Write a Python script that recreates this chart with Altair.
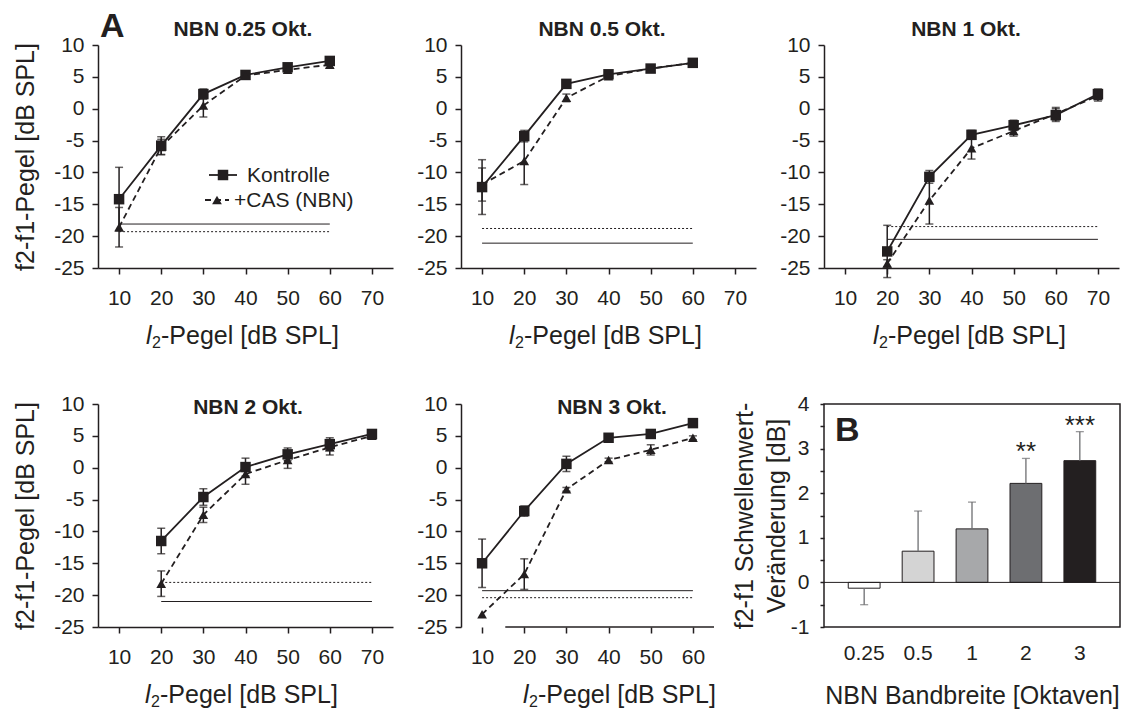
import altair as alt
import pandas as pd

FONT = "Liberation Sans"
INK = "#231f20"

# ---------------- data ----------------
panel_titles = ["NBN 0.25 Okt.", "NBN 0.5 Okt.", "NBN 1 Okt.", "NBN 2 Okt.", "NBN 3 Okt."]

lvl_p1 = [10, 20, 30, 40, 50, 60]
kon_p1 = [-14.2, -5.8, 2.3, 5.3, 6.5, 7.5]
kon_err_p1 = [5.0, 1.4, 0.8, 0.3, 0.5, 0.4]
cas_p1 = [-18.6, -6.0, 0.5, 5.2, 6.1, 6.9]
cas_err_p1 = [3.1, 1.2, 1.8, 0.3, 0.5, 0.5]
floor_kon_p1 = -18.1
floor_cas_p1 = -19.3

lvl_p2 = [10, 20, 30, 40, 50, 60]
kon_p2 = [-12.3, -4.3, 3.9, 5.4, 6.3, 7.2]
kon_err_p2 = [4.3, 0.9, 0.5, 0.4, 0.3, 0.3]
cas_p2 = [-11.9, -8.2, 1.7, 5.1, 6.3, 7.2]
cas_err_p2 = [2.6, 3.7, 0.6, 0.4, 0.3, 0.3]
floor_kon_p2 = -21.1
floor_cas_p2 = -18.8

lvl_p3 = [20, 30, 40, 50, 60, 70]
kon_p3 = [-22.4, -10.7, -4.1, -2.6, -1.0, 2.3]
kon_err_p3 = [4.1, 1.0, 0.7, 0.8, 1.0, 0.8]
cas_p3 = [-24.3, -14.4, -6.2, -3.5, -0.8, 2.0]
cas_err_p3 = [0.6, 3.7, 1.7, 0.8, 1.0, 0.8]
floor_kon_p3 = -20.5
floor_cas_p3 = -18.5

lvl_p4 = [20, 30, 40, 50, 60, 70]
kon_p4 = [-11.5, -4.6, 0.1, 2.1, 3.7, 5.3]
kon_err_p4 = [2.0, 1.3, 1.4, 1.0, 1.0, 0.5]
cas_p4 = [-18.2, -7.4, -1.0, 1.2, 3.2, 5.0]
cas_err_p4 = [2.0, 1.2, 1.6, 1.3, 1.2, 0.5]
floor_kon_p4 = -21.0
floor_cas_p4 = -18.0

lvl_p5 = [10, 20, 30, 40, 50, 60]
kon_p5 = [-15.0, -6.8, 0.6, 4.7, 5.3, 7.0]
kon_err_p5 = [3.8, 0.8, 1.2, 0.3, 0.3, 0.3]
cas_p5 = [-23.0, -16.7, -3.4, 1.2, 2.8, 4.7]
cas_err_p5 = [0.0, 2.4, 0.3, 0.3, 0.8, 0.3]
floor_kon_p5 = -19.3
floor_cas_p5 = -20.4
axis_line_p5 = [15.5, 65]

y_ticks = [-25, -20, -15, -10, -5, 0, 5, 10]
x_ticks_70 = [10, 20, 30, 40, 50, 60, 70]
x_ticks_60 = [10, 20, 30, 40, 50, 60]

bandwidths = ["0.25", "0.5", "1", "2", "3"]
shift_db = [-0.13, 0.70, 1.20, 2.22, 2.73]
shift_err = [0.37, 0.90, 0.60, 0.56, 0.65]
stars = ["", "", "", "**", "***"]
bar_colors = ["#ffffff", "#d4d4d4", "#a7a8aa", "#6d6e71", "#231f20"]
b_ticks = [-1, -0.5, 0, 0.5, 1, 1.5, 2, 2.5, 3, 3.5, 4]

H = 223


def blank():
    return pd.DataFrame({"k": [0]})


def text_layer(txt, x, y, size, weight="normal", style="normal", align="left"):
    return alt.Chart(blank()).mark_text(
        text=txt, font=FONT, fontSize=size, fontWeight=weight, fontStyle=style,
        align=align, baseline="alphabetic", color=INK
    ).encode(x=alt.value(x), y=alt.value(y))


def xtitle_layers(cx, base):
    start = cx - 96
    return [
        text_layer("l", start, base, 25, style="italic"),
        text_layer("2", start + 6, base + 4, 16),
        text_layer("-Pegel [dB SPL]", start + 15, base, 25),
    ]


def line_panel(title, lv, kon, kerr, cas, cerr, fk, fc, xdom, xticks, width,
               title_cx, title_y, xt_cx, ytitle, axis_line=None, extras=()):
    n = len(lv)
    df = pd.DataFrame({"lvl": lv + lv, "val": kon + cas, "err": kerr + cerr,
                       "grp": ["K"] * n + ["C"] * n})
    df["lo"] = df["val"] - df["err"]
    df["hi"] = df["val"] + df["err"]
    kdf = df[df.grp == "K"]
    cdf = df[df.grp == "C"]
    edf = df[df.err > 0]
    xs = alt.Scale(domain=xdom, nice=False, zero=False)
    ys = alt.Scale(domain=[-25, 10], nice=False, zero=False)
    xax = alt.Axis(values=xticks, title=None, labelPadding=13,
                   domain=axis_line is None, labelExpr="'' + datum.value")
    if ytitle:
        yax = alt.Axis(values=y_ticks, title=ytitle, titlePadding=15, labelPadding=8,
                       labelExpr="'' + datum.value")
    else:
        yax = alt.Axis(values=y_ticks, title=None, labelPadding=8,
                       labelExpr="'' + datum.value")

    def X(f):
        return alt.X(f, type="quantitative", scale=xs, axis=xax)

    def Y(f):
        return alt.Y(f, type="quantitative", scale=ys, axis=yax)

    fl = pd.DataFrame({"x1": [lv[0]], "x2": [lv[-1]], "yk": [fk], "yc": [fc]})
    layers = [
        alt.Chart(fl).mark_rule(color=INK, strokeWidth=1).encode(x=X("x1"), x2="x2", y=Y("yk")),
        alt.Chart(fl).mark_rule(color=INK, strokeWidth=1, strokeDash=[2, 2]).encode(
            x=X("x1"), x2="x2", y=Y("yc")),
    ]
    if axis_line is not None:
        al = pd.DataFrame({"a1": [axis_line[0]], "a2": [axis_line[1]], "ay": [-25]})
        layers.append(alt.Chart(al).mark_rule(color=INK, strokeWidth=1.5).encode(
            x=X("a1"), x2="a2", y=Y("ay")))
    layers += [
        alt.Chart(edf).mark_rule(color=INK, strokeWidth=1.5).encode(x=X("lvl"), y=Y("lo"), y2="hi"),
        alt.Chart(edf).mark_tick(color=INK, orient="horizontal", size=8, thickness=1.5).encode(
            x=X("lvl"), y=Y("lo")),
        alt.Chart(edf).mark_tick(color=INK, orient="horizontal", size=8, thickness=1.5).encode(
            x=X("lvl"), y=Y("hi")),
        alt.Chart(kdf).mark_line(color=INK, strokeWidth=1.8).encode(x=X("lvl"), y=Y("val")),
        alt.Chart(cdf).mark_line(color=INK, strokeWidth=1.8, strokeDash=[6, 4]).encode(
            x=X("lvl"), y=Y("val")),
        alt.Chart(kdf).mark_point(shape="square", filled=True, size=110, color=INK, opacity=1).encode(
            x=X("lvl"), y=Y("val")),
        alt.Chart(cdf).mark_point(shape="triangle-up", filled=True, size=95, color=INK, opacity=1).encode(
            x=X("lvl"), y=Y("val")),
        text_layer(title, title_cx, title_y, 21, weight="bold", align="center"),
    ]
    layers += xtitle_layers(xt_cx, H + 76)
    layers += list(extras)
    return alt.layer(*layers).properties(width=width, height=H)


# legend + panel letter for panel 1
legend_layers = [
    alt.Chart(blank()).mark_rule(color=INK, strokeWidth=1.8).encode(
        x=alt.value(111), x2=alt.value(139), y=alt.value(130)),
    alt.Chart(blank()).mark_point(shape="square", filled=True, size=110, color=INK, opacity=1).encode(
        x=alt.value(125), y=alt.value(130)),
    text_layer("Kontrolle", 149, 137, 21),
    alt.Chart(blank()).mark_rule(color=INK, strokeWidth=1.8, strokeDash=[6, 4]).encode(
        x=alt.value(107), x2=alt.value(131), y=alt.value(155)),
    alt.Chart(blank()).mark_point(shape="triangle-up", filled=True, size=95, color=INK, opacity=1).encode(
        x=alt.value(119), y=alt.value(155)),
    text_layer("+CAS (NBN)", 136, 162, 21),
    text_layer("A", 2, -8, 34, weight="bold"),
]

p1 = line_panel(panel_titles[0], lvl_p1, kon_p1, kon_err_p1, cas_p1, cas_err_p1,
                floor_kon_p1, floor_cas_p1, [5, 75], x_ticks_70, 295, 145, -9, 144,
                "f2-f1-Pegel [dB SPL]", extras=legend_layers)
p2 = line_panel(panel_titles[1], lvl_p2, kon_p2, kon_err_p2, cas_p2, cas_err_p2,
                floor_kon_p2, floor_cas_p2, [5, 75], x_ticks_70, 295, 141, -9, 144, None)
p3 = line_panel(panel_titles[2], lvl_p3, kon_p3, kon_err_p3, cas_p3, cas_err_p3,
                floor_kon_p3, floor_cas_p3, [5, 75], x_ticks_70, 295, 142, -9, 145, None)
p4 = line_panel(panel_titles[3], lvl_p4, kon_p4, kon_err_p4, cas_p4, cas_err_p4,
                floor_kon_p4, floor_cas_p4, [5, 75], x_ticks_70, 295, 150, 10, 143,
                "f2-f1-Pegel [dB SPL]")
p5 = line_panel(panel_titles[4], lvl_p5, kon_p5, kon_err_p5, cas_p5, cas_err_p5,
                floor_kon_p5, floor_cas_p5, [5, 65], x_ticks_60, 253, 151, 10, 158, None,
                axis_line=axis_line_p5)

# ---------------- panel B ----------------
bdf = pd.DataFrame({"bw": bandwidths, "val": shift_db, "err": shift_err, "star": stars})
bdf["end"] = [v + e if v >= 0 else v - e for v, e in zip(shift_db, shift_err)]
bxs = alt.Scale(domain=bandwidths, paddingInner=0.41, paddingOuter=0.45)
bys = alt.Scale(domain=[-1, 4], nice=False, zero=False)
bxax = alt.Axis(title="NBN Bandbreite [Oktaven]", labelAngle=0, ticks=False, domain=False,
                labelPadding=15, titlePadding=20)
byax = alt.Axis(values=b_ticks, tickSize=4, labelPadding=11, domain=False,
                labelExpr="datum.value % 1 === 0 ? '' + datum.value : ''",
                title=["f2-f1 Schwellenwert-", "Veränderung [dB]"], titleLineHeight=32,
                titlePadding=1)


def BX():
    return alt.X("bw:N", sort=bandwidths, scale=bxs, axis=bxax)


def BY(f):
    return alt.Y(f, type="quantitative", scale=bys, axis=byax)


zero_df = pd.DataFrame({"z": [0]})
pB = alt.layer(
    alt.Chart(bdf).mark_bar(stroke=INK, strokeWidth=1).encode(
        x=BX(), y=BY("val"),
        color=alt.Color("bw:N", scale=alt.Scale(domain=bandwidths, range=bar_colors), legend=None)),
    alt.Chart(zero_df).mark_rule(color=INK, strokeWidth=1).encode(y=BY("z")),
    alt.Chart(bdf).mark_rule(color="#6d6e71", strokeWidth=1.3).encode(x=BX(), y=BY("val"), y2="end"),
    alt.Chart(bdf).mark_tick(color="#6d6e71", orient="horizontal", size=8, thickness=1.3).encode(
        x=BX(), y=BY("end")),
    alt.Chart(bdf).mark_text(font=FONT, fontSize=26, baseline="alphabetic", dy=2, color=INK).encode(
        x=BX(), y=BY("end"), text="star:N"),
    text_layer("B", 11, 37, 34, weight="bold"),
).properties(width=296, height=H, view=alt.ViewBackground(stroke=INK, strokeWidth=1.5))

chart = alt.concat(
    p1, p2, p3, p4, p5, pB, columns=3,
    spacing=alt.RowColnumber(row=136, column=68), bounds="flush"
).properties(
    padding={"left": 13, "top": 10, "right": 5, "bottom": 5},
    background="white",
).configure(font=FONT).configure_view(stroke=None).configure_axis(
    domainColor=INK, domainWidth=1.5, tickColor=INK, tickWidth=1.5, tickSize=6,
    labelFont=FONT, labelFontSize=21, labelColor=INK,
    titleFont=FONT, titleFontSize=25, titleColor=INK, titleFontWeight="normal",
    grid=False,
)

chart.save("out.html", embed_options={"renderer": "svg", "actions": False})
